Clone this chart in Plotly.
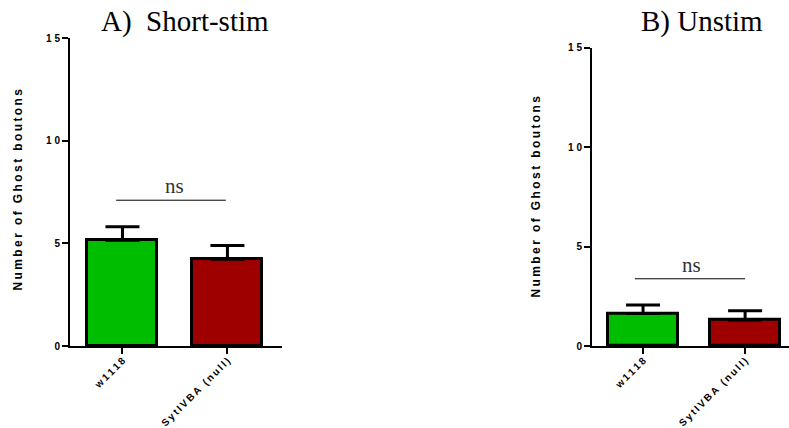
import plotly.graph_objects as go

# Group labels and summary values (mean, SEM)
genotypes = ["w1118", "SytIVBA (null)"]
short_stim_mean = [5.15, 4.22]
short_stim_sem = [0.66, 0.67]
unstim_mean = [1.64, 1.31]
unstim_sem = [0.42, 0.46]
y_ticks = [0, 5, 10, 15]

bar_colors = ["#00BD00", "#9E0000"]
SP = "\u2009"  # thin space used to widen tracking of the sans labels


def spaced(s, sep=SP):
    return sep.join(list(s))


fig = go.Figure()

fig.add_trace(go.Bar(
    x=[0, 1], y=short_stim_mean, width=0.667,
    marker=dict(color=bar_colors, line=dict(color="black", width=3)),
    error_y=dict(type="data", symmetric=False, array=short_stim_sem,
                 arrayminus=[0, 0], color="black", thickness=3, width=17),
    xaxis="x", yaxis="y", showlegend=False,
))
fig.add_trace(go.Bar(
    x=[0, 1], y=unstim_mean, width=0.68,
    marker=dict(color=bar_colors, line=dict(color="black", width=3)),
    error_y=dict(type="data", symmetric=False, array=unstim_sem,
                 arrayminus=[0, 0], color="black", thickness=3, width=17),
    xaxis="x2", yaxis="y2", showlegend=False,
))

sans = "Liberation Sans, Arial"
tick_font = dict(family=sans, size=10, color="black", weight="bold")
common_x = dict(
    tickmode="array", tickvals=[0, 1], ticktext=[spaced(g) for g in genotypes],
    tickangle=-45, ticks="outside", ticklen=6, tickwidth=2, tickcolor="black",
    ticklabelstandoff=-3,
    showline=True, linecolor="black", linewidth=2, showgrid=False, zeroline=False,
    tickfont=tick_font, fixedrange=True, automargin=False,
)
common_y = dict(
    tickmode="array", tickvals=y_ticks,
    ticktext=[spaced(str(v), SP + "\u200a") for v in y_ticks],
    range=[0, 15], ticks="outside", ticklen=6, tickwidth=2, tickcolor="black",
    showline=True, linecolor="black", linewidth=2, showgrid=False, zeroline=False,
    tickfont=tick_font, fixedrange=True, automargin=False,
)

fig.update_layout(
    width=789, height=428,
    margin=dict(l=0, r=0, t=0, b=0, autoexpand=False),
    paper_bgcolor="white", plot_bgcolor="white",
    xaxis=dict(domain=[70 / 789, 282 / 789], range=[-0.5, 1.52], anchor="y", **common_x),
    yaxis=dict(domain=[82 / 428, 390 / 428], anchor="x", **common_y),
    xaxis2=dict(domain=[592 / 789, 1.0], range=[-0.5, 1.43], anchor="y2", **common_x),
    yaxis2=dict(domain=[82 / 428, 380.3 / 428], anchor="x2", **common_y),
    bargap=0,
)

# significance brackets
ns_level_short = 7.1
ns_level_unstim = 3.38
fig.add_shape(type="line", xref="x", yref="y", x0=-0.06, x1=0.985,
              y0=ns_level_short, y1=ns_level_short, line=dict(color="black", width=1))
fig.add_shape(type="line", xref="x2", yref="y2", x0=-0.08, x1=1.0,
              y0=ns_level_unstim, y1=ns_level_unstim, line=dict(color="black", width=1))

serif = "Liberation Serif, Times New Roman"
fig.add_annotation(xref="x", yref="y", x=0.5, y=ns_level_short, yshift=0,
                   text="ns", showarrow=False, xanchor="center", yanchor="bottom",
                   font=dict(family=serif, size=21, color="#333"))
fig.add_annotation(xref="x2", yref="y2", x=0.47, y=ns_level_unstim, yshift=0,
                   text="ns", showarrow=False, xanchor="center", yanchor="bottom",
                   font=dict(family=serif, size=21, color="#333"))

# panel titles
fig.add_annotation(xref="paper", yref="paper", x=185 / 789, y=(428 - 22) / 428,
                   text="A)\u00a0\u00a0Short-stim", showarrow=False,
                   xanchor="center", yanchor="middle",
                   font=dict(family=serif, size=29, color="black"))
fig.add_annotation(xref="paper", yref="paper", x=702 / 789, y=(428 - 22) / 428,
                   text="B) Unstim", showarrow=False,
                   xanchor="center", yanchor="middle",
                   font=dict(family=serif, size=29, color="black"))

# y-axis titles
ytitle = spaced("Number of Ghost boutons")
fig.add_annotation(xref="paper", yref="paper", x=17.5 / 789, y=(428 - 190) / 428,
                   text=ytitle, textangle=-90, showarrow=False,
                   xanchor="center", yanchor="middle",
                   font=dict(family=sans, size=12, color="black", weight="bold"))
fig.add_annotation(xref="paper", yref="paper", x=535 / 789, y=(428 - 196.5) / 428,
                   text=ytitle, textangle=-90, showarrow=False,
                   xanchor="center", yanchor="middle",
                   font=dict(family=sans, size=12, color="black", weight="bold"))

fig.write_html("out.html")
